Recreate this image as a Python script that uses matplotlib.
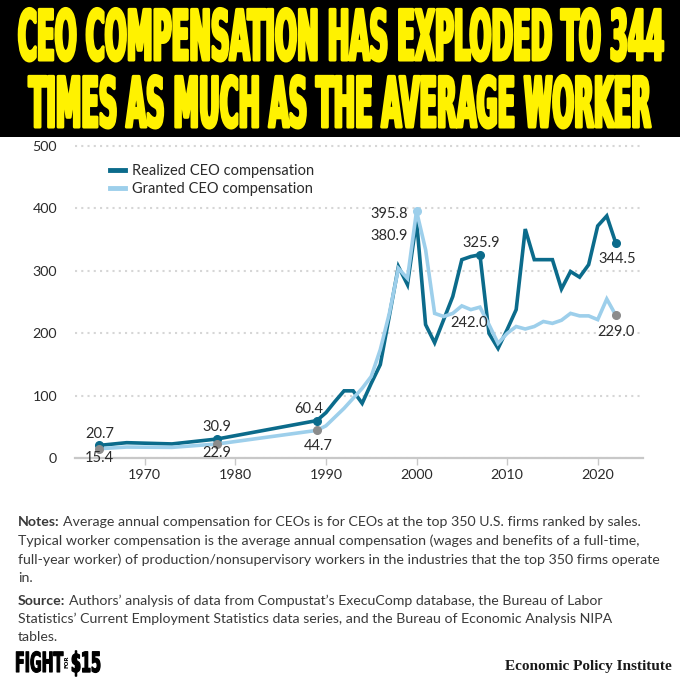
import matplotlib
matplotlib.use("Agg")
import matplotlib.pyplot as plt
from matplotlib import font_manager
from matplotlib.patches import Rectangle
from matplotlib.patheffects import AbstractPathEffect
from matplotlib.transforms import Affine2D

# ---- data (ratio of CEO to typical worker compensation) ----
years = [1965, 1968, 1973, 1978, 1989] + list(range(1990, 2023))
realized = [20.7, 25.0, 23.0, 30.9, 60.4,
            73, 91, 108, 108, 88, 120, 150, 228, 307, 278,
            380.9, 214, 185, 222, 259, 318, 323, 325.9, 200, 176,
            206, 238, 367, 318, 318, 318, 271, 299, 290, 310,
            372, 388, 344.5]
granted = [15.4, 18.0, 17.5, 22.9, 44.7,
           52, 66, 80, 96, 112, 131, 174, 232, 304, 288,
           395.8, 334, 232, 227, 232, 244, 238, 242.0, 214, 184,
           200, 211, 207, 211, 219, 216, 221, 232, 228, 228,
           222, 255, 229.0]

realized_label_years = [1965, 1978, 1989, 2000, 2007, 2022]
granted_label_years = [1965, 1978, 1989, 2000, 2007, 2022]

x_ticks = [1970, 1980, 1990, 2000, 2010, 2020]
y_ticks = [0, 100, 200, 300, 400, 500]

title_lines = ["CEO COMPENSATION HAS EXPLODED TO 344",
               "TIMES AS MUCH AS THE AVERAGE WORKER"]

DARK = "#0b6b8b"
LIGHT = "#9dcfeb"
GREY = "#8c8c8c"
TEXT = "#2b2b2b"

installed = {f.name for f in font_manager.fontManager.ttflist}
sans = "Lato" if "Lato" in installed else "DejaVu Sans"
narrow = "Liberation Sans Narrow" if "Liberation Sans Narrow" in installed else "DejaVu Sans"
serif = "Liberation Serif" if "Liberation Serif" in installed else "DejaVu Serif"


class Stretch(AbstractPathEffect):
    """Scale drawn text vertically about its baseline (display px), with a fattening stroke."""

    def __init__(self, sy, cy, lw=0.0):
        super().__init__()
        self.sy, self.cy, self.lw = sy, cy, lw

    def draw_path(self, renderer, gc, tpath, affine, rgbFace=None):
        aff = affine + Affine2D().translate(0, -self.cy).scale(1, self.sy).translate(0, self.cy)
        gc0 = renderer.new_gc()
        gc0.copy_properties(gc)
        if self.lw and rgbFace is not None:
            gc0.set_linewidth(self.lw)
            gc0.set_foreground(rgbFace)
            gc0.set_joinstyle("round")
        renderer.draw_path(gc0, tpath, aff, rgbFace)
        gc0.restore()


W = H = 680
fig = plt.figure(figsize=(6.8, 6.8), dpi=100)
fig.patch.set_facecolor("white")
renderer = fig.canvas.get_renderer()


def fy(px):
    return 1 - px / H


def tall_text(x, base, s, target_w, size, color, lw, ha):
    # size gives the wanted glyph height; the font is shrunk to fit target_w and stretched back up
    t = fig.text(x / W, fy(base), s, ha=ha, va="baseline", color=color,
                 fontsize=size, fontweight="bold", family=narrow)
    w = t.get_window_extent(renderer).width
    fs = size * target_w / w
    t.set_fontsize(fs)
    t.set_path_effects([Stretch(size / fs, H - base, lw=lw)])
    return t


# ---- title band ----
fig.add_artist(Rectangle((0, fy(137)), 1, 137 / H, transform=fig.transFigure,
                         facecolor="black", edgecolor="none", zorder=0))
for line, base, target in zip(title_lines, [60, 127], [647, 623]):
    tall_text(W / 2, base, line, target, 50, "#fff200", 2.2, "center")

# ---- chart ----
ax = fig.add_axes([75 / W, fy(458.3), 568 / W, 314.2 / H])
ax.set_xlim(1962.3, 2025)
ax.set_ylim(0, 503)

ax.plot(years, realized, color=DARK, lw=2.6, solid_joinstyle="miter", zorder=3,
        label="Realized CEO compensation")
ax.plot(years, granted, color=LIGHT, lw=2.6, solid_joinstyle="miter", zorder=4,
        label="Granted CEO compensation")

for yr in realized_label_years:
    if yr == 2000:
        continue
    ax.plot(yr, realized[years.index(yr)], "o", ms=5.5, color=DARK, zorder=5)
for yr in granted_label_years:
    if yr == 2007:
        continue
    c = LIGHT if yr == 2000 else GREY
    ax.plot(yr, granted[years.index(yr)], "o", ms=5.5, color=c, zorder=6)

# label offsets (points) and alignment
r_offsets = [(0, 8.2, "center"), (0, 8.6, "center"), (-6, 8.4, "center"),
             (-6.5, -11.6, "right"), (1, 8.6, "center"), (1, -11.3, "center")]
g_offsets = [(0, -6.7, "center"), (0, -6.2, "center"), (1, -11, "center"),
             (-6.5, -2, "right"), (-8, -11.3, "center"), (0, -11.7, "center")]
for yrs, series, offs in [(realized_label_years, realized, r_offsets),
                          (granted_label_years, granted, g_offsets)]:
    for yr, (dx, dy, ha) in zip(yrs, offs):
        v = series[years.index(yr)]
        ax.annotate(f"{v:.1f}", (yr, v), xytext=(dx, dy), textcoords="offset points",
                    ha=ha, va="center", fontsize=10.5, color=TEXT, family=sans, zorder=7)

ax.set_xticks(x_ticks)
ax.set_yticks(y_ticks)
ax.tick_params(axis="y", length=0, pad=13, labelsize=10.3, labelcolor=TEXT)
ax.tick_params(axis="x", length=5, width=1, color="#c8c8c8", pad=3,
               labelsize=10.3, labelcolor=TEXT)
for lab in ax.get_xticklabels() + ax.get_yticklabels():
    lab.set_family(sans)
for s in ["left", "right", "top"]:
    ax.spines[s].set_visible(False)
ax.spines["bottom"].set_color("#c8c8c8")
ax.spines["bottom"].set_linewidth(1.6)
ax.grid(axis="y", color="#d6d6d6", lw=1.5, linestyle=(0, (1, 2)))
ax.set_axisbelow(True)

leg = ax.legend(loc="upper left", bbox_to_anchor=(0.0616, 0.937), frameon=False,
                handlelength=1.0, handletextpad=0.5, labelspacing=0.3, borderpad=0,
                borderaxespad=0, prop={"family": sans, "size": 10.5})
for h in leg.legend_handles:
    h.set_linewidth(3.5)
for t in leg.get_texts():
    t.set_color(TEXT)

# ---- notes ----
note_color = "#3a3a3a"
note_lines = [
    ("Notes:", "Average annual compensation for CEOs is for CEOs at the top 350 U.S. firms ranked by sales.", 522),
    ("", "Typical worker compensation is the average annual compensation (wages and benefits of a full-time,", 541),
    ("", "full-year worker) of production/nonsupervisory workers in the industries that the top 350 firms operate", 560),
    ("", "in.", 578),
    ("Source:", "Authors’ analysis of data from Compustat’s ExecuComp database, the Bureau of Labor", 601),
    ("", "Statistics’ Current Employment Statistics data series, and the Bureau of Economic Analysis NIPA", 619),
    ("", "tables.", 637),
]
# fit the note size so the longest line spans the reference width
probe = fig.text(0, 0, note_lines[2][1], fontsize=10, family=sans)
note_size = 10 * 644 / probe.get_window_extent(renderer).width
probe.remove()

for head, body, ypx in note_lines:
    x0 = 18
    if head:
        hb = fig.text(x0 / W, fy(ypx), head, ha="left", va="center", fontsize=note_size,
                      fontweight="bold", color=note_color, family=sans)
        x0 += hb.get_window_extent(renderer).width + 3.5
    fig.text(x0 / W, fy(ypx), body, ha="left", va="center", fontsize=note_size,
             color=note_color, family=sans)

# ---- footer logos ----
tall_text(15, 672, "FIGHT", 48, 20, "black", 0.8, "left")
fig.text(67 / W, fy(662), "FOR", ha="center", va="center", rotation=90, fontsize=4.0,
         fontweight="bold", color="black", family=narrow)
tall_text(71, 672, "$15", 30, 20, "black", 1.0, "left")

fig.text(672 / W, fy(670), "Economic Policy Institute", ha="right", va="baseline",
         fontsize=11.0, fontweight="bold", color="#1a1a1a", family=serif)

fig.savefig("out.png", dpi=100, facecolor="white")
